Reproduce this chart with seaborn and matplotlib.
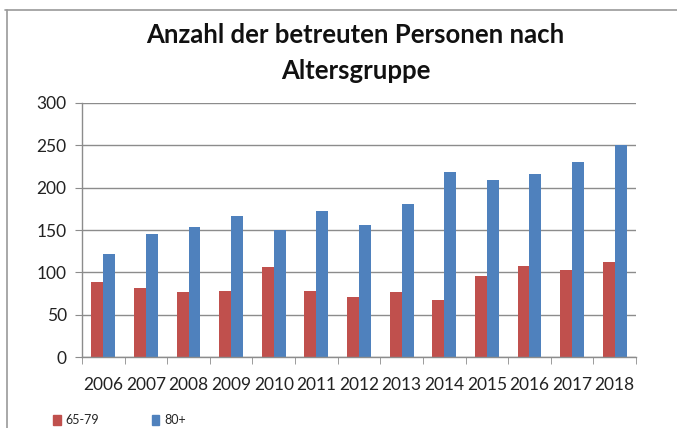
import numpy as np
import pandas as pd
import seaborn as sns
import matplotlib.pyplot as plt
from matplotlib.lines import Line2D
from matplotlib.patches import Patch

years = ["2006", "2007", "2008", "2009", "2010", "2011", "2012",
         "2013", "2014", "2015", "2016", "2017", "2018"]
group_6579 = [89, 82, 77, 78, 106, 78, 71, 77, 67, 96, 108, 103, 112]
group_80 = [122, 145, 153, 167, 150, 172, 156, 181, 218, 209, 216, 230, 250]
groups = ["65-79", "80+"]
colors = ["#C0504D", "#4F81BD"]

rows = []
for y, a, b in zip(years, group_6579, group_80):
    rows.append([y, groups[0], a])
    rows.append([y, groups[1], b])
df = pd.DataFrame(rows, columns=["year", "group", "count"])

sns.set_style("white")
plt.rcParams["font.family"] = ["Lato", "DejaVu Sans"]

fig = plt.figure(figsize=(6.77, 4.28), dpi=100)
ax = fig.add_axes([0.1211, 0.1652, 0.8183, 0.5948])

sns.barplot(data=df, x="year", y="count", hue="group", palette=colors,
            width=0.56, ax=ax, legend=False, saturation=1, linewidth=0)

ax.set_ylim(0, 300)
ax.set_xlim(-0.5, 12.5)
ax.set_yticks(np.arange(0, 301, 50))
ax.yaxis.grid(True, color="#8c8c8c", linewidth=1)
ax.set_axisbelow(True)
ax.set_xlabel("")
ax.set_ylabel("")

for s in ["top", "right"]:
    ax.spines[s].set_visible(False)
for s in ["left", "bottom"]:
    ax.spines[s].set_color("#8c8c8c")
    ax.spines[s].set_linewidth(1)

ax.set_xticks(np.arange(-0.5, 13, 1), minor=True)
ax.tick_params(axis="x", which="major", length=0, pad=14, labelsize=12.5,
               labelcolor="#222222")
ax.tick_params(axis="x", which="minor", length=5, color="#8c8c8c",
               direction="out", bottom=True)
ax.tick_params(axis="y", length=5, color="#8c8c8c", direction="out",
               left=True, pad=6, labelsize=12.5, labelcolor="#222222")

fig.text(0.525, 0.918, "Anzahl der betreuten Personen nach", ha="center",
         va="center", fontsize=18.5, fontweight="bold", color="#111111")
fig.text(0.525, 0.835, "Altersgruppe", ha="center", va="center",
         fontsize=18.5, fontweight="bold", color="#111111")

handles = [Patch(facecolor=c, edgecolor=c) for c in colors]
fig.legend(handles, groups, loc="center left", bbox_to_anchor=(0.062, 0.018),
           ncol=2, frameon=False, fontsize=9, handlelength=0.6,
           handleheight=0.9, handletextpad=0.4, columnspacing=4.2)

# chart frame
fig.add_artist(Line2D([5 / 677, 1], [1 - 10 / 428, 1 - 10 / 428],
                      transform=fig.transFigure, color="#9a9a9a", lw=1.2))
fig.add_artist(Line2D([7 / 677, 7 / 677], [0, 1 - 10 / 428],
                      transform=fig.transFigure, color="#9a9a9a", lw=1.2))

fig.savefig("out.png", dpi=100)
